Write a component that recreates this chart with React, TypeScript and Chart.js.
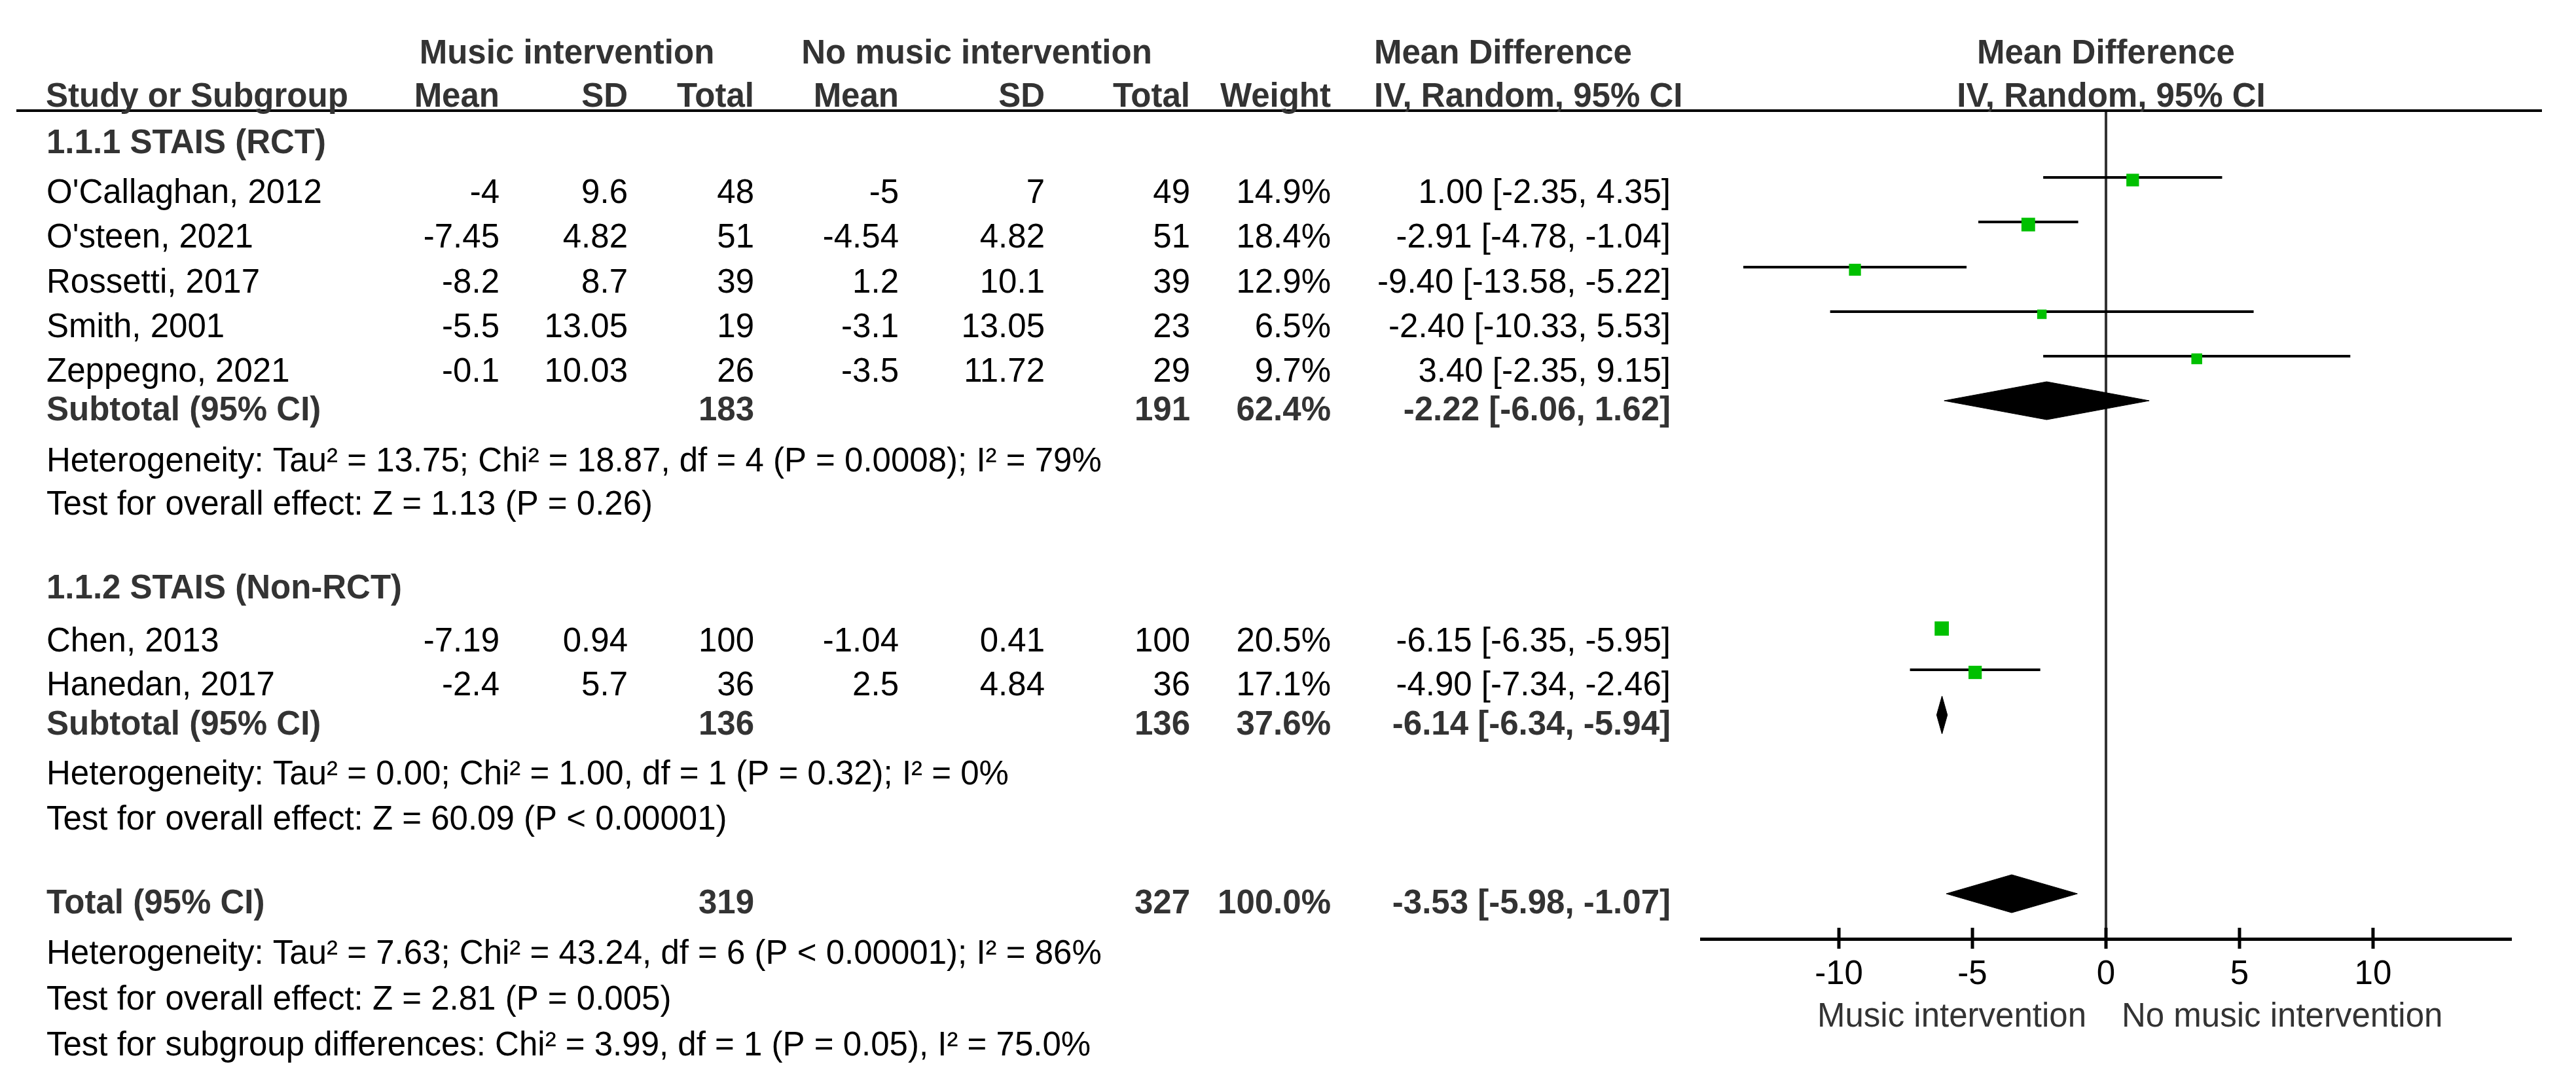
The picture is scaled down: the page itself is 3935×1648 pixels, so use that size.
import React, { useEffect, useRef } from 'react';
import { Chart, registerables } from 'chart.js';

Chart.register(...registerables);

// ---------------- data ----------------
const STUDIES = ["O'Callaghan, 2012", "O'steen, 2021", 'Rossetti, 2017', 'Smith, 2001', 'Zeppegno, 2021', 'Chen, 2013', 'Hanedan, 2017'];
const MEAN_E = [-4, -7.45, -8.2, -5.5, -0.1, -7.19, -2.4];
const SD_E = [9.6, 4.82, 8.7, 13.05, 10.03, 0.94, 5.7];
const N_E = [48, 51, 39, 19, 26, 100, 36];
const MEAN_C = [-5, -4.54, 1.2, -3.1, -3.5, -1.04, 2.5];
const SD_C = [7, 4.82, 10.1, 13.05, 11.72, 0.41, 4.84];
const N_C = [49, 51, 39, 23, 29, 100, 36];
const WEIGHT = [14.9, 18.4, 12.9, 6.5, 9.7, 20.5, 17.1];
const MD = [1.0, -2.91, -9.4, -2.4, 3.4, -6.15, -4.9];
const CI_LO = [-2.35, -4.78, -13.58, -10.33, -2.35, -6.35, -7.34];
const CI_HI = [4.35, -1.04, -5.22, 5.53, 9.15, -5.95, -2.46];

const GROUP_NAMES = ['1.1.1 STAIS (RCT)', '1.1.2 STAIS (Non-RCT)'];
const SUB_N_E = [183, 136];
const SUB_N_C = [191, 136];
const SUB_WEIGHT = [62.4, 37.6];
const SUB_MD = [-2.22, -6.14];
const SUB_LO = [-6.06, -6.34];
const SUB_HI = [1.62, -5.94];
const SUB_HET = [
  'Heterogeneity: Tau² = 13.75; Chi² = 18.87, df = 4 (P = 0.0008); I² = 79%',
  'Heterogeneity: Tau² = 0.00; Chi² = 1.00, df = 1 (P = 0.32); I² = 0%',
];
const SUB_TEST = ['Test for overall effect: Z = 1.13 (P = 0.26)', 'Test for overall effect: Z = 60.09 (P < 0.00001)'];

const TOTAL_N_E = 319;
const TOTAL_N_C = 327;
const TOTAL_WEIGHT = 100.0;
const TOTAL_MD = -3.53;
const TOTAL_LO = -5.98;
const TOTAL_HI = -1.07;
const FOOTER = [
  'Heterogeneity: Tau² = 7.63; Chi² = 43.24, df = 6 (P < 0.00001); I² = 86%',
  'Test for overall effect: Z = 2.81 (P = 0.005)',
  'Test for subgroup differences: Chi² = 3.99, df = 1 (P = 0.05), I² = 75.0%',
];

const X_TICKS = [-10, -5, 0, 5, 10];
const AXIS_LEFT_LABEL = 'Music intervention';
const AXIS_RIGHT_LABEL = 'No music intervention';

// ---------------- layout ----------------
const W = 3935;
const H = 1648;
const TOP = 169;
const AXIS_Y = 1434;
const PLOT_LEFT = 2599;
const PLOT_RIGHT = 3835;
const X_MIN = -15.15;
const X_MAX = 15.15;
const RULE_LEFT = 25;
const RULE_RIGHT = 3883;

const STUDY_Y = [310, 378, 447, 515, 583, 995, 1062];
const GROUP_HEAD_Y = [234, 914];
const SUB_Y = [642, 1122];
const HET_Y = [720, 1198];
const TEST_Y = [786, 1267];
const TOTAL_Y = 1395;
const FOOT_Y = [1472, 1542, 1612];
const HEAD1_Y = 97;
const HEAD2_Y = 163;

const LEFT_X = 71;
const COL = { meanE: 763, sdE: 959, nE: 1152, meanC: 1373, sdC: 1596, nC: 1818, w: 2033, ci: 2552 };

const FONT = "'Liberation Sans', Arial, Helvetica, sans-serif";
const FS = 51;
const BOLD_COLOR = '#333333';
const TEXT_COLOR = '#000000';

const fmtCI = (m: number, l: number, h: number) => `${m.toFixed(2)} [${l.toFixed(2)}, ${h.toFixed(2)}]`;

// ---------------- datasets ----------------
function buildDatasets() {
  const ds: any[] = [];
  ds.push({
    label: 'Studies',
    data: MD.map((m, i) => ({ x: m, y: STUDY_Y[i] - 35 })),
    pointStyle: 'rect',
    pointRadius: WEIGHT.map((w) => (5 + 3.7 * Math.sqrt(w)) / Math.SQRT2),
    pointHoverRadius: WEIGHT.map((w) => (5 + 3.7 * Math.sqrt(w)) / Math.SQRT2),
    backgroundColor: '#00c000',
    borderColor: '#00c000',
    borderWidth: 0,
    showLine: false,
    order: 0,
  });
  STUDIES.forEach((s, i) => {
    ds.push({
      label: s,
      data: [
        { x: CI_LO[i], y: STUDY_Y[i] - 39 },
        { x: CI_HI[i], y: STUDY_Y[i] - 39 },
      ],
      showLine: true,
      borderColor: '#000',
      borderWidth: 4,
      pointRadius: 0,
      pointHoverRadius: 0,
      order: 1,
    });
  });
  const diamonds = [
    ...SUB_MD.map((m, i) => ({ m, lo: SUB_LO[i], hi: SUB_HI[i], y: SUB_Y[i] - 30 })),
    { m: TOTAL_MD, lo: TOTAL_LO, hi: TOTAL_HI, y: TOTAL_Y - 30 },
  ];
  diamonds.forEach((d, k) => {
    [-29, 29].forEach((dy) => {
      ds.push({
        label: `diamond${k}${dy}`,
        data: [
          { x: d.lo, y: d.y },
          { x: d.m, y: d.y + dy },
          { x: d.hi, y: d.y },
        ],
        showLine: true,
        borderColor: '#000',
        borderWidth: 1,
        backgroundColor: '#000',
        fill: { value: d.y },
        pointRadius: 0,
        pointHoverRadius: 0,
        order: 1,
      });
    });
  });
  return ds;
}

// ---------------- text plugin ----------------
const tablePlugin = {
  id: 'forestTable',
  afterDraw(chart: any) {
    const { ctx } = chart;
    const xs = chart.scales.x;
    const ys = chart.scales.y;
    const Y = (v: number) => ys.getPixelForValue(v);
    const x0 = xs.getPixelForValue(0);

    ctx.save();
    // header rule
    ctx.strokeStyle = '#000';
    ctx.lineWidth = 4;
    ctx.beginPath();
    ctx.moveTo(RULE_LEFT, Y(TOP));
    ctx.lineTo(RULE_RIGHT, Y(TOP));
    ctx.stroke();

    // upper halves of tick marks
    ctx.lineWidth = 5;
    xs.ticks.forEach((t: any) => {
      const px = xs.getPixelForValue(t.value);
      ctx.beginPath();
      ctx.moveTo(px, Y(AXIS_Y) - 17);
      ctx.lineTo(px, Y(AXIS_Y));
      ctx.stroke();
    });

    const txt = (s: string, x: number, y: number, align: CanvasTextAlign, bold = false, color?: string) => {
      ctx.font = `${bold ? 'bold ' : ''}${FS}px ${FONT}`;
      ctx.fillStyle = color || (bold ? BOLD_COLOR : TEXT_COLOR);
      ctx.textAlign = align;
      ctx.textBaseline = 'alphabetic';
      ctx.fillText(s, x, y);
    };

    // headers
    txt('Music intervention', 866, Y(HEAD1_Y), 'center', true);
    txt('No music intervention', 1492, Y(HEAD1_Y), 'center', true);
    txt('Mean Difference', 2099, Y(HEAD1_Y), 'left', true);
    txt('Mean Difference', x0, Y(HEAD1_Y), 'center', true);
    const h2 = Y(HEAD2_Y);
    txt('Study or Subgroup', LEFT_X - 1, h2, 'left', true);
    txt('Mean', COL.meanE, h2, 'right', true);
    txt('SD', COL.sdE, h2, 'right', true);
    txt('Total', COL.nE, h2, 'right', true);
    txt('Mean', COL.meanC, h2, 'right', true);
    txt('SD', COL.sdC, h2, 'right', true);
    txt('Total', COL.nC, h2, 'right', true);
    txt('Weight', COL.w, h2, 'right', true);
    txt('IV, Random, 95% CI', 2099, h2, 'left', true);
    txt('IV, Random, 95% CI', x0 + 8, h2, 'center', true);

    // groups
    GROUP_NAMES.forEach((g, gi) => txt(g, LEFT_X, Y(GROUP_HEAD_Y[gi]), 'left', true));

    // studies
    STUDIES.forEach((name, i) => {
      const y = Y(STUDY_Y[i]);
      txt(name, LEFT_X, y, 'left');
      txt(String(MEAN_E[i]), COL.meanE, y, 'right');
      txt(String(SD_E[i]), COL.sdE, y, 'right');
      txt(String(N_E[i]), COL.nE, y, 'right');
      txt(String(MEAN_C[i]), COL.meanC, y, 'right');
      txt(String(SD_C[i]), COL.sdC, y, 'right');
      txt(String(N_C[i]), COL.nC, y, 'right');
      txt(`${WEIGHT[i].toFixed(1)}%`, COL.w, y, 'right');
      txt(fmtCI(MD[i], CI_LO[i], CI_HI[i]), COL.ci, y, 'right');
    });

    // subtotals
    SUB_Y.forEach((sy, gi) => {
      const y = Y(sy);
      txt('Subtotal (95% CI)', LEFT_X, y, 'left', true);
      txt(String(SUB_N_E[gi]), COL.nE, y, 'right', true);
      txt(String(SUB_N_C[gi]), COL.nC, y, 'right', true);
      txt(`${SUB_WEIGHT[gi].toFixed(1)}%`, COL.w, y, 'right', true);
      txt(fmtCI(SUB_MD[gi], SUB_LO[gi], SUB_HI[gi]), COL.ci, y, 'right', true);
      txt(SUB_HET[gi], LEFT_X, Y(HET_Y[gi]), 'left');
      txt(SUB_TEST[gi], LEFT_X, Y(TEST_Y[gi]), 'left');
    });

    // total
    const ty = Y(TOTAL_Y);
    txt('Total (95% CI)', LEFT_X, ty, 'left', true);
    txt(String(TOTAL_N_E), COL.nE, ty, 'right', true);
    txt(String(TOTAL_N_C), COL.nC, ty, 'right', true);
    txt(`${TOTAL_WEIGHT.toFixed(1)}%`, COL.w, ty, 'right', true);
    txt(fmtCI(TOTAL_MD, TOTAL_LO, TOTAL_HI), COL.ci, ty, 'right', true);
    FOOTER.forEach((f, k) => txt(f, LEFT_X, Y(FOOT_Y[k]), 'left'));

    // axis side labels
    txt(AXIS_LEFT_LABEL, x0 - 30, Y(1568), 'right', false, '#333333');
    txt(AXIS_RIGHT_LABEL, x0 + 24, Y(1568), 'left', false, '#333333');

    ctx.restore();
  },
};

export default function App() {
  const ref = useRef<HTMLCanvasElement>(null);
  useEffect(() => {
    document.body.style.margin = '0';
    const chart = new Chart(ref.current as HTMLCanvasElement, {
      type: 'scatter',
      data: { datasets: buildDatasets() },
      options: {
        animation: false,
        responsive: false,
        devicePixelRatio: 1,
        events: [],
        layout: { padding: { left: PLOT_LEFT, right: W - PLOT_RIGHT, top: TOP, bottom: 0 } },
        plugins: { legend: { display: false }, tooltip: { enabled: false } },
        scales: {
          x: {
            type: 'linear',
            position: 'bottom',
            min: X_MIN,
            max: X_MAX,
            afterBuildTicks: (s: any) => {
              s.ticks = X_TICKS.map((v) => ({ value: v }));
            },
            afterFit: (s: any) => {
              s.height = H - AXIS_Y;
            },
            grid: {
              drawOnChartArea: true,
              drawTicks: true,
              color: (c: any) => (c.tick && c.tick.value === 0 ? '#333333' : 'rgba(0,0,0,0)'),
              lineWidth: 4,
              tickColor: '#000',
              tickWidth: 5,
              tickLength: 15,
            },
            border: { display: true, color: '#000', width: 5 },
            ticks: {
              color: '#000',
              font: { family: FONT, size: FS },
              padding: 9,
              maxRotation: 0,
              autoSkip: false,
              callback: (v: any) => String(v),
            },
          },
          y: { type: 'linear', display: false, min: TOP, max: AXIS_Y, reverse: true },
        },
      } as any,
      plugins: [tablePlugin],
    });
    return () => chart.destroy();
  }, []);
  return (
    <div style={{ position: 'absolute', left: 0, top: 0, width: W, height: H, background: '#fff' }}>
      <canvas ref={ref} width={W} height={H} style={{ width: W, height: H, display: 'block' }} />
    </div>
  );
}
